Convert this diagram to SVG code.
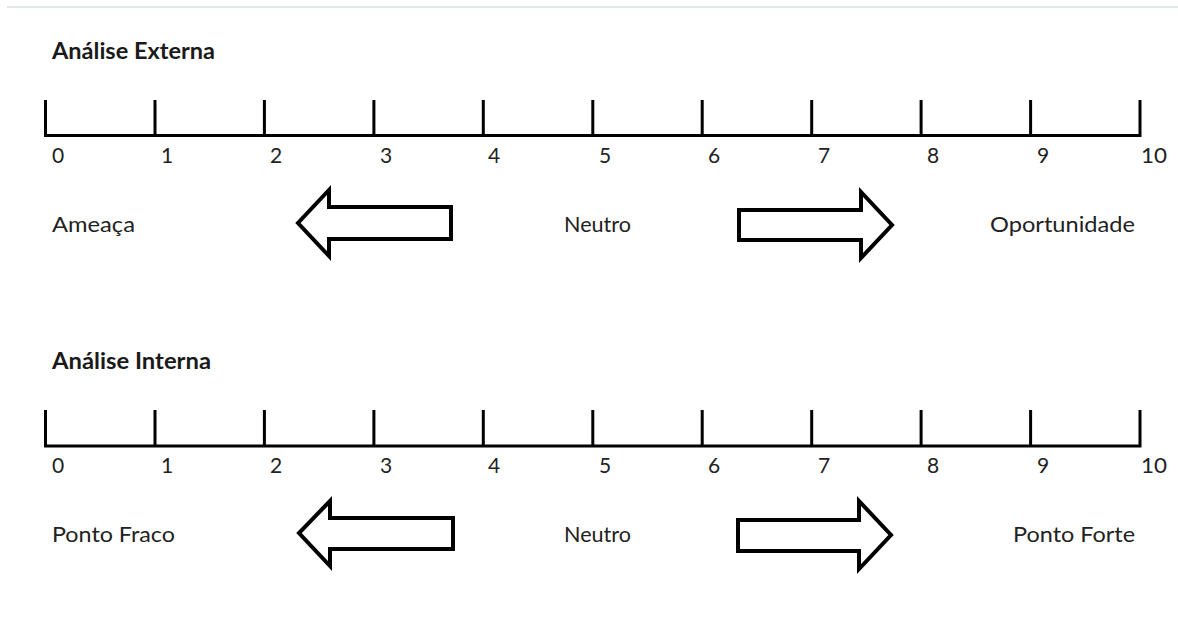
<svg xmlns="http://www.w3.org/2000/svg" width="1178" height="626" viewBox="0 0 1178 626">
  <style>
    .bg { fill: #ffffff; }
    .rule { stroke: #e3e6e6; stroke-width: 2; }
    .axis { fill: none; stroke: #000000; stroke-width: 3; stroke-linecap: butt; stroke-linejoin: miter; }
    .arrow { fill: #ffffff; stroke: #000000; stroke-width: 4; stroke-linejoin: miter; }
    .title { font-family: Lato, "Open Sans", sans-serif; font-weight: bold; font-size: 22px; fill: #1a1a1a; }
    .num { font-family: Lato, "Open Sans", sans-serif; font-size: 21px; fill: #222222; }
    .lbl { font-family: Lato, "Open Sans", sans-serif; font-size: 22px; fill: #222222; }
  </style>

  <rect class="bg" x="0" y="0" width="1178" height="626"/>
  <line class="rule" x1="7" y1="7" x2="1178" y2="7"/>

  <!-- External analysis scale -->
  <g id="externa">
    <text class="title" x="52" y="59" textLength="163" lengthAdjust="spacingAndGlyphs">Análise Externa</text>
    <path id="eixo-externo" class="axis" d="M45.5 100V135.5H1140V100 M155 100V135.5 M264.4 100V135.5 M373.9 100V135.5 M483.3 100V135.5 M592.8 100V135.5 M702.2 100V135.5 M811.7 100V135.5 M921.1 100V135.5 M1030.6 100V135.5"/>
    <g class="num">
      <text x="52" y="163">0</text>
      <text x="161" y="163">1</text>
      <text x="270" y="163">2</text>
      <text x="380" y="163">3</text>
      <text x="488" y="163">4</text>
      <text x="599" y="163">5</text>
      <text x="708" y="163">6</text>
      <text x="818" y="163">7</text>
      <text x="927" y="163">8</text>
      <text x="1037" y="163">9</text>
      <text x="1141" y="163" textLength="26" lengthAdjust="spacingAndGlyphs">10</text>
    </g>
    <g id="ameaca"><text class="lbl" x="52" y="232" textLength="83" lengthAdjust="spacingAndGlyphs">Ameaça</text></g>
    <g id="neutro-externo"><text class="lbl" x="564" y="232" textLength="67" lengthAdjust="spacingAndGlyphs">Neutro</text></g>
    <g id="oportunidade"><text class="lbl" x="990" y="232" textLength="145" lengthAdjust="spacingAndGlyphs">Oportunidade</text></g>
  </g>

  <!-- Internal analysis scale -->
  <g id="interna">
    <text class="title" x="52" y="369" textLength="159" lengthAdjust="spacingAndGlyphs">Análise Interna</text>
    <path id="eixo-interno" class="axis" d="M45.5 410V446H1140V410 M155 410V446 M264.4 410V446 M373.9 410V446 M483.3 410V446 M592.8 410V446 M702.2 410V446 M811.7 410V446 M921.1 410V446 M1030.6 410V446"/>
    <g class="num">
      <text x="52" y="473">0</text>
      <text x="161" y="473">1</text>
      <text x="270" y="473">2</text>
      <text x="380" y="473">3</text>
      <text x="488" y="473">4</text>
      <text x="599" y="473">5</text>
      <text x="708" y="473">6</text>
      <text x="818" y="473">7</text>
      <text x="927" y="473">8</text>
      <text x="1037" y="473">9</text>
      <text x="1141" y="473" textLength="26" lengthAdjust="spacingAndGlyphs">10</text>
    </g>
    <g id="ponto-fraco"><text class="lbl" x="52" y="542" textLength="123" lengthAdjust="spacingAndGlyphs">Ponto Fraco</text></g>
    <g id="neutro-interno"><text class="lbl" x="564" y="542" textLength="67" lengthAdjust="spacingAndGlyphs">Neutro</text></g>
    <g id="ponto-forte"><text class="lbl" x="1013" y="542" textLength="122" lengthAdjust="spacingAndGlyphs">Ponto Forte</text></g>
  </g>

  <!-- Direction arrows -->
  <g id="setas">
    <path class="arrow" d="M451 207H329V190L298 223L329 256V239H451Z"/>
    <path class="arrow" d="M739 210H861V192L892 225L861 258V240H739Z"/>
    <path class="arrow" d="M453 518H330V501L299 533L330 566V549H453Z"/>
    <path class="arrow" d="M738 520H859V501L891 535L859 569V551H738Z"/>
  </g>
</svg>
